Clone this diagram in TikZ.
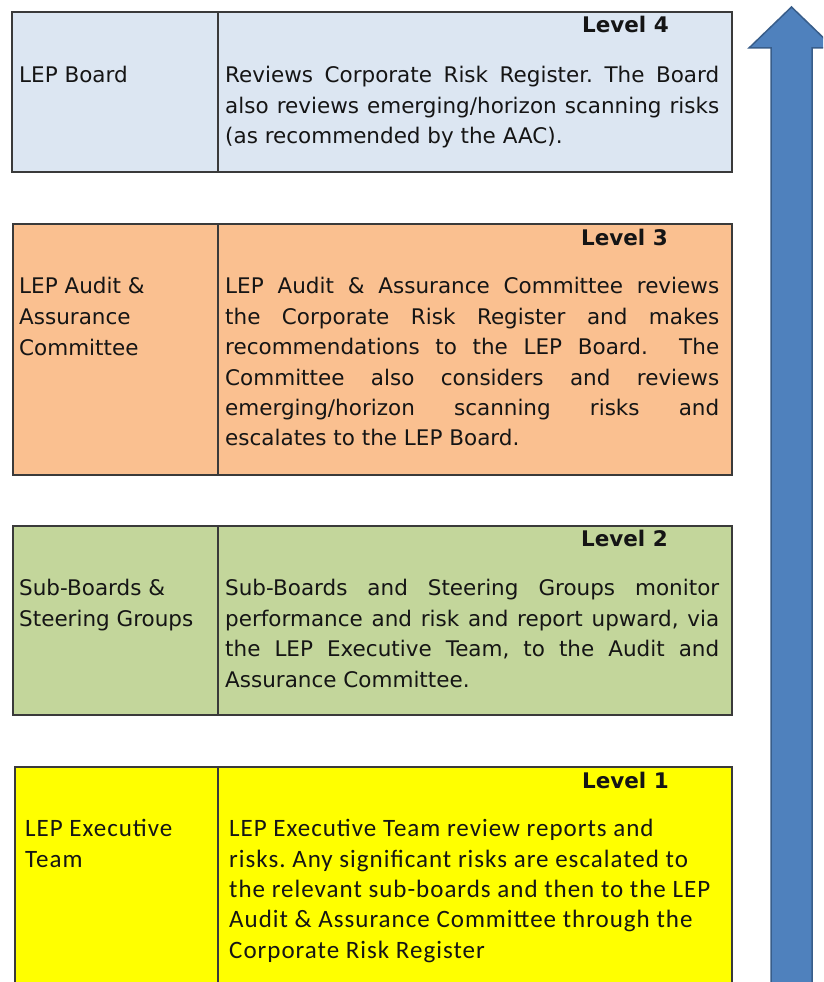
\documentclass[tikz,border=0pt]{standalone}
\usepackage{fontspec}
\setmainfont{DejaVu Sans}
\newfontfamily\calib[LetterSpace=4]{Carlito}
\definecolor{bordergray}{HTML}{3A3A3A}
\definecolor{cfour}{HTML}{DCE6F2}
\definecolor{cthree}{HTML}{FAC090}
\definecolor{ctwo}{HTML}{C3D69B}
\definecolor{cone}{HTML}{FFFF00}
\definecolor{arrowblue}{HTML}{4F81BD}
\definecolor{arrowline}{HTML}{385D8A}
\definecolor{txtcol}{HTML}{151515}
\tikzset{
  cell/.style={draw=bordergray, line width=1.6pt, anchor=north west, inner sep=0pt},
  txt/.style={inner sep=0pt, text=txtcol, font=\fontsize{21.5}{26}\selectfont},
  ctxt/.style={inner sep=0pt, text=txtcol, anchor=base west, font=\calib\fontsize{25}{30}\selectfont},
  lvl/.style={inner sep=0pt, text=txtcol, anchor=base east, font=\bfseries\fontsize{21.5}{26}\selectfont},
  jl/.style={txt, anchor=base west},
}
\newcommand{\jline}[1]{\makebox[494pt][s]{#1}}
\frenchspacing
\begin{document}
\begin{tikzpicture}[x=1pt,y=-1pt]
\useasboundingbox (0,0) rectangle (823,982);
\clip (0,0) rectangle (823,982);
\fill[white] (0,0) rectangle (823,982);
% Level 4
\node[cell, fill=cfour, minimum width=206pt, minimum height=160pt] (l4) at (11,11) {};
\node[cell, fill=cfour, minimum width=514pt, minimum height=160pt] (r4) at (217,11) {};
\node[lvl] (lv4) at (669,33) {Level 4};
\node[jl] (n4a) at (19,82.7) {LEP Board};
\node[jl] (t4a) at (225,82.7) {\jline{Reviews Corporate Risk Register. The Board}};
\node[jl] (t4b) at (225,113) {\jline{also reviews emerging/horizon scanning risks}};
\node[jl] (t4c) at (225,143.5) {(as recommended by the AAC).};
% Level 3
\node[cell, fill=cthree, minimum width=205pt, minimum height=251pt] (l3) at (12,223) {};
\node[cell, fill=cthree, minimum width=514pt, minimum height=251pt] (r3) at (217,223) {};
\node[lvl] (lv3) at (668,245) {Level 3};
\node[jl] (n3a) at (19,293) {LEP Audit \&};
\node[jl] (n3b) at (19,324.5) {Assurance};
\node[jl] (n3c) at (19,355.5) {Committee};
\node[jl] (t3a) at (225,293) {\jline{LEP Audit \& Assurance Committee reviews}};
\node[jl] (t3b) at (225,324) {\jline{the Corporate Risk Register and makes}};
\node[jl] (t3c) at (225,354.5) {\jline{recommendations to the LEP Board.\ \ The}};
\node[jl] (t3d) at (225,385) {\jline{Committee also considers and reviews}};
\node[jl] (t3e) at (225,415) {\jline{emerging/horizon scanning risks and}};
\node[jl] (t3f) at (225,445.5) {escalates to the LEP Board.};
% Level 2
\node[cell, fill=ctwo, minimum width=205pt, minimum height=189pt] (l2) at (12,525) {};
\node[cell, fill=ctwo, minimum width=514pt, minimum height=189pt] (r2) at (217,525) {};
\node[lvl] (lv2) at (668,546) {Level 2};
\node[jl] (n2a) at (19,595) {Sub-Boards \&};
\node[jl] (n2b) at (19,626) {Steering Groups};
\node[jl] (t2a) at (225,595) {\jline{Sub-Boards and Steering Groups monitor}};
\node[jl] (t2b) at (225,626) {\jline{performance and risk and report upward, via}};
\node[jl] (t2c) at (225,656) {\jline{the LEP Executive Team, to the Audit and}};
\node[jl] (t2d) at (225,687) {Assurance Committee.};
% Level 1
\node[cell, fill=cone, minimum width=203pt, minimum height=240pt] (l1) at (14,766) {};
\node[cell, fill=cone, minimum width=514pt, minimum height=240pt] (r1) at (217,766) {};
\node[lvl] (lv1) at (669,788) {Level 1};
\node[ctxt] (n1a) at (25,836.7) {LEP Executive};
\node[ctxt] (n1b) at (25,867) {Team};
\node[ctxt] (t1a) at (229,836.7) {LEP Executive Team review reports and};
\node[ctxt] (t1b) at (229,867) {risks. Any significant risks are escalated to};
\node[ctxt] (t1c) at (229,897.3) {the relevant sub-boards and then to the LEP};
\node[ctxt] (t1d) at (229,927.6) {Audit \& Assurance Committee through the};
\node[ctxt] (t1e) at (229,958) {Corporate Risk Register};
% Arrow
\path[draw=arrowline, fill=arrowblue, line width=1.5pt, line join=miter]
  (771,995) -- (771,48) -- (749,48) -- (791.5,7) -- (834,48) -- (812,48) -- (812,995) -- cycle;
\end{tikzpicture}
\end{document}
